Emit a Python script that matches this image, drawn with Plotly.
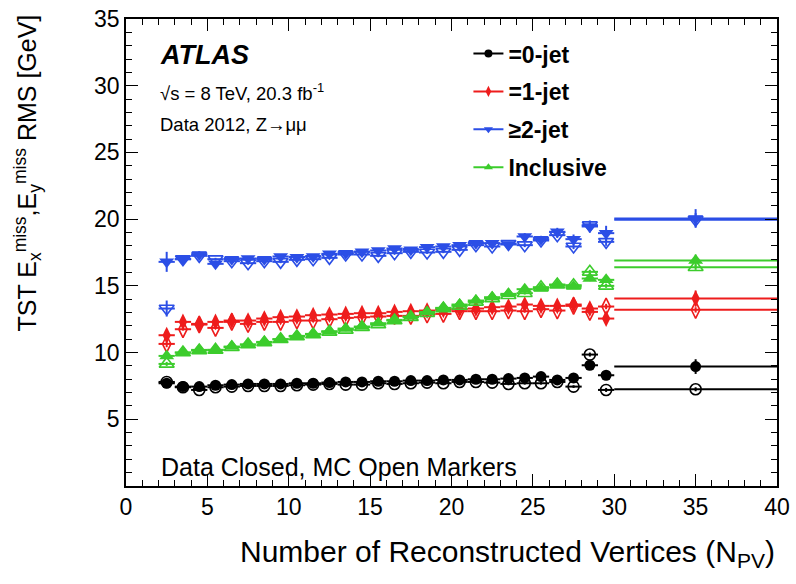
import plotly.graph_objects as go

# ---------------- data ----------------
npv = [2.5, 3.5, 4.5, 5.5, 6.5, 7.5, 8.5, 9.5, 10.5, 11.5, 12.5, 13.5, 14.5, 15.5,
       16.5, 17.5, 18.5, 19.5, 20.5, 21.5, 22.5, 23.5, 24.5, 25.5, 26.5, 27.5, 28.5, 29.5, 35]
npv_halfwidth = [0.5, 0.5, 0.5, 0.5, 0.5, 0.5, 0.5, 0.5, 0.5, 0.5, 0.5, 0.5, 0.5, 0.5,
                 0.5, 0.5, 0.5, 0.5, 0.5, 0.5, 0.5, 0.5, 0.5, 0.5, 0.5, 0.5, 0.5, 0.5, 5]

jet0_data = [7.7, 7.45, 7.45, 7.55, 7.6, 7.65, 7.65, 7.65, 7.7, 7.7, 7.75, 7.8, 7.8, 7.85,
             7.85, 7.9, 7.9, 7.95, 7.95, 8.0, 8.0, 8.05, 8.1, 8.2, 7.95, 8.1, 9.05, 8.3, 8.95]
jet0_mc = [7.8, 7.4, 7.2, 7.4, 7.45, 7.5, 7.5, 7.5, 7.55, 7.6, 7.65, 7.6, 7.6, 7.7,
           7.65, 7.7, 7.75, 7.7, 7.8, 7.8, 7.75, 7.65, 7.7, 7.7, 7.8, 7.45, 9.85, 7.2, 7.25]
jet1_data = [11.3, 12.3, 12.15, 12.3, 12.4, 12.4, 12.55, 12.65, 12.7, 12.8, 12.85, 12.9, 12.95, 12.95,
             13.05, 13.1, 13.15, 13.2, 13.25, 13.3, 13.4, 13.45, 13.6, 13.5, 13.5, 13.6, 13.3, 12.55, 14.05]
jet1_mc = [10.65, 11.75, 12.1, 11.85, 12.3, 12.15, 12.3, 12.3, 12.4, 12.4, 12.5, 12.6, 12.65, 12.7,
           12.75, 12.75, 12.85, 12.9, 13.1, 13.1, 13.1, 13.15, 13.1, 13.25, 13.15, 13.5, 13.05, 13.45, 13.2]
jet2_data = [16.8, 17.0, 17.35, 16.65, 17.0, 17.05, 17.0, 17.2, 17.15, 17.2, 17.4, 17.45, 17.55, 17.65,
             17.8, 17.7, 17.9, 17.95, 18.05, 18.2, 18.2, 18.1, 18.7, 18.5, 19.05, 18.5, 19.45, 18.95, 20.05]
jet2_mc = [13.3, 17.0, 17.25, 17.0, 16.85, 16.7, 16.85, 16.8, 16.95, 17.0, 17.1, 17.35, 17.35, 17.25,
           17.45, 17.55, 17.5, 17.55, 17.7, 18.05, 17.95, 18.15, 18.05, 18.4, 18.8, 17.95, 19.55, 18.3, 19.95]
incl_data = [9.75, 10.0, 10.2, 10.2, 10.45, 10.6, 10.8, 11.0, 11.25, 11.4, 11.6, 11.8, 11.95, 12.2,
             12.45, 12.7, 13.05, 13.35, 13.6, 13.9, 14.15, 14.4, 14.75, 14.8, 15.05, 14.95, 15.55, 15.45, 16.9]
incl_mc = [9.15, 10.0, 10.15, 10.2, 10.4, 10.6, 10.75, 11.0, 11.2, 11.35, 11.55, 11.7, 11.9, 12.1,
           12.4, 12.65, 12.95, 13.3, 13.5, 13.8, 14.05, 14.3, 14.45, 14.9, 15.1, 15.05, 16.05, 15.0, 16.4]

# statistical uncertainties
jet0_data_err = [0.15, 0.1, 0.1, 0.1, 0.1, 0.1, 0.1, 0.1, 0.1, 0.1, 0.1, 0.1, 0.1, 0.1,
                 0.1, 0.1, 0.1, 0.1, 0.1, 0.1, 0.1, 0.1, 0.1, 0.1, 0.15, 0.15, 0.2, 0.3, 0.55]
jet0_mc_err = [0.15, 0.1, 0.1, 0.1, 0.1, 0.1, 0.1, 0.1, 0.1, 0.1, 0.1, 0.1, 0.1, 0.1,
               0.1, 0.1, 0.1, 0.1, 0.1, 0.1, 0.1, 0.1, 0.1, 0.1, 0.1, 0.1, 0.15, 0.15, 0.15]
jet1_data_err = [0.4, 0.15, 0.1, 0.1, 0.1, 0.1, 0.1, 0.1, 0.1, 0.1, 0.1, 0.1, 0.1, 0.1,
                 0.1, 0.1, 0.1, 0.1, 0.1, 0.1, 0.1, 0.1, 0.1, 0.15, 0.15, 0.2, 0.2, 0.4, 0.6]
jet1_mc_err = [0.25, 0.1, 0.1, 0.1, 0.1, 0.1, 0.1, 0.1, 0.1, 0.1, 0.1, 0.1, 0.1, 0.1,
               0.1, 0.1, 0.1, 0.1, 0.1, 0.1, 0.1, 0.1, 0.1, 0.1, 0.1, 0.15, 0.15, 0.2, 0.2]
jet2_data_err = [0.75, 0.3, 0.25, 0.2, 0.15, 0.15, 0.15, 0.15, 0.15, 0.15, 0.15, 0.15, 0.15, 0.15,
                 0.15, 0.15, 0.15, 0.15, 0.15, 0.2, 0.2, 0.2, 0.25, 0.25, 0.3, 0.35, 0.45, 0.55, 0.7]
jet2_mc_err = [0.6, 0.15, 0.1, 0.1, 0.1, 0.1, 0.1, 0.1, 0.1, 0.1, 0.1, 0.1, 0.1, 0.1,
               0.1, 0.1, 0.1, 0.1, 0.1, 0.1, 0.1, 0.1, 0.15, 0.15, 0.2, 0.2, 0.3, 0.3, 0.5]
incl_data_err = [0.15, 0.1, 0.1, 0.1, 0.1, 0.1, 0.1, 0.1, 0.1, 0.1, 0.1, 0.1, 0.1, 0.1,
                 0.1, 0.1, 0.1, 0.1, 0.1, 0.1, 0.1, 0.1, 0.1, 0.1, 0.15, 0.15, 0.2, 0.25, 0.45]
incl_mc_err = [0.15, 0.1, 0.1, 0.1, 0.1, 0.1, 0.1, 0.1, 0.1, 0.1, 0.1, 0.1, 0.1, 0.1,
               0.1, 0.1, 0.1, 0.1, 0.1, 0.1, 0.1, 0.1, 0.1, 0.1, 0.1, 0.1, 0.15, 0.15, 0.2]

legend_labels = ["=0-jet", "=1-jet", "\u22652-jet", "Inclusive"]
x_tick_values = [0, 5, 10, 15, 20, 25, 30, 35, 40]
y_tick_values = [5, 10, 15, 20, 25, 30, 35]

# ---------------- styling ----------------
BLACK = "#000000"
RED = "#ee1c1c"
BLUE = "#2b4ee6"
GREEN = "#3ccc2c"

series = [
    (legend_labels[0], jet0_data, jet0_data_err, jet0_mc, jet0_mc_err, BLACK, "circle", "circle-open", 11),
    (legend_labels[1], jet1_data, jet1_data_err, jet1_mc, jet1_mc_err, RED, "diamond-tall", "diamond-tall-open", 12),
    (legend_labels[2], jet2_data, jet2_data_err, jet2_mc, jet2_mc_err, BLUE, "triangle-down", "triangle-down-open", 13),
    (legend_labels[3], incl_data, incl_data_err, incl_mc, incl_mc_err, GREEN, "triangle-up", "triangle-up-open", 13),
]

fig = go.Figure()

for label, dat, derr, mc, merr, col, sym_f, sym_o, msize in series:
    # MC (open markers)
    fig.add_trace(go.Scatter(
        x=npv, y=mc, mode="markers", showlegend=False, name=label + " MC",
        marker=dict(symbol=sym_o, size=msize, color=col, line=dict(color=col, width=1.6)),
        error_x=dict(type="data", array=npv_halfwidth, color=col, thickness=2, width=0),
        error_y=dict(type="data", array=merr, color=col, thickness=2, width=0),
    ))
    # Data (closed markers)
    fig.add_trace(go.Scatter(
        x=npv, y=dat, mode="markers", showlegend=False, name=label + " Data",
        marker=dict(symbol=sym_f, size=msize, color=col, line=dict(width=0)),
        error_x=dict(type="data", array=npv_halfwidth, color=col, thickness=2, width=0),
        error_y=dict(type="data", array=derr, color=col, thickness=2, width=0),
    ))

# legend entries (line + small marker, as in the original legend)
for label, dat, derr, mc, merr, col, sym_f, sym_o, msize in series:
    fig.add_trace(go.Scatter(
        x=[None], y=[None], mode="lines+markers", name=label, legendgroup=label,
        line=dict(color=col, width=2),
        marker=dict(symbol=sym_f, size=8, color=col),
    ))

font_family = "Liberation Sans, Arial, Helvetica, sans-serif"

axis_common = dict(
    tickmode="array",
    ticks="inside", ticklen=12, tickwidth=1, tickcolor="black",
    showline=True, linecolor="black", linewidth=1.5, mirror="allticks",
    showgrid=False, zeroline=False, automargin=False,
    ticklabeloverflow="allow",
    tickfont=dict(size=23),
)

fig.update_layout(
    width=796, height=584,
    margin=dict(l=126, r=19, t=19, b=98, autoexpand=False),
    paper_bgcolor="white", plot_bgcolor="white",
    font=dict(family=font_family, color="black", size=22),
    showlegend=True,
    legend=dict(
        x=0.526, y=0.972, xanchor="left", yanchor="top",
        font=dict(size=23, family=font_family, weight="bold"),
        bgcolor="rgba(0,0,0,0)", borderwidth=0,
        tracegroupgap=5, traceorder="grouped", itemwidth=30,
    ),
    xaxis=dict(
        range=[0, 40], tickvals=x_tick_values,
        minor=dict(dtick=1, tick0=0, ticks="inside", ticklen=6, tickcolor="black", tickwidth=1),
        **axis_common,
    ),
    yaxis=dict(
        range=[0, 35], tickvals=y_tick_values,
        minor=dict(dtick=1, tick0=0, ticks="inside", ticklen=6, tickcolor="black", tickwidth=1),
        **axis_common,
    ),
)

# positions below are in window pixels; plot area spans x 126..777, y 19..486
annotations = [
    dict(text="<b><i>ATLAS</i></b>", x=158, y=55, size=27),
    dict(text="\u221as = 8 TeV, 20.3 fb<sup>-1</sup>", x=158, y=92, size=18.5),
    dict(text="Data 2012, Z\u2192\u03bc\u03bc", x=158, y=124, size=18.5),
    dict(text="Data Closed, MC Open Markers", x=159, y=467, size=25),
]
for a in annotations:
    fig.add_annotation(
        text=a["text"], xref="paper", yref="paper",
        x=(a["x"] - 126) / 651, y=(486 - a["y"]) / 467,
        xanchor="left", yanchor="middle", showarrow=False,
        font=dict(size=a["size"], family=font_family, color="black"),
    )

# axis titles (right aligned as in ROOT)
fig.add_annotation(
    text="Number of Reconstructed Vertices (N<sub>PV</sub>)",
    xref="paper", yref="paper", x=1.0, y=(486 - 553) / 467,
    xanchor="right", yanchor="middle", showarrow=False,
    font=dict(size=30, family=font_family, color="black"),
)
fig.add_annotation(
    text="TST E<sub>x</sub><sup>miss</sup>,E<sub>y</sub><sup>miss</sup> RMS [GeV]",
    xref="paper", yref="paper", x=(28 - 126) / 651, y=1.0 + 6 / 467,
    xanchor="center", yanchor="top", textangle=-90, showarrow=False,
    font=dict(size=25, family=font_family, color="black"),
)

# remove the browser's default 8px body margin so the figure fills the window exactly
fig.write_html(
    "out.html",
    config={"displayModeBar": False},
    post_script="document.body.style.margin='0';",
)
